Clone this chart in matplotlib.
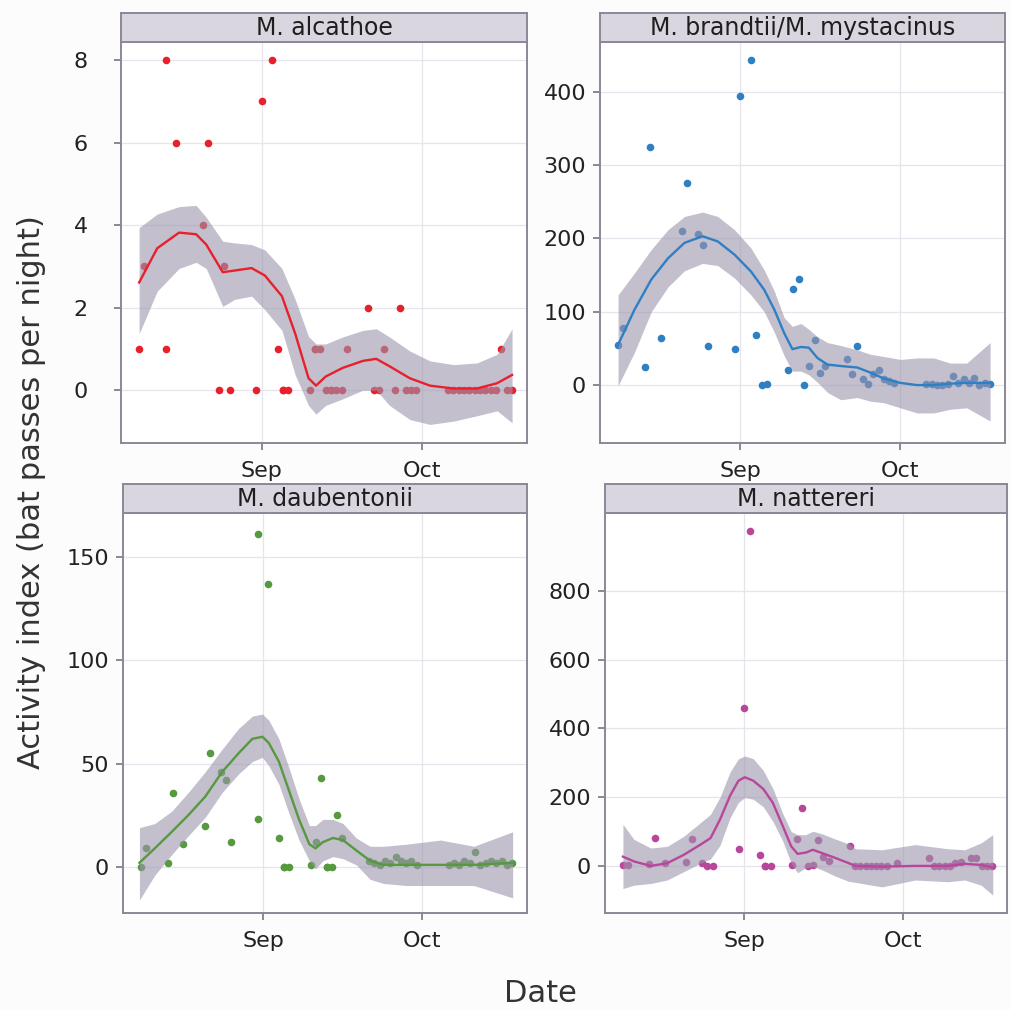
import numpy as np
import pandas as pd
import matplotlib
matplotlib.use("Agg")
import matplotlib.pyplot as plt
import matplotlib.dates as mdates

# days are counted from 1 Sep
base = pd.Timestamp("2016-09-01")

# M. alcathoe
alc_day = [-23, -22, -18, -18, -16, -11, -10, -8, -7, -6, -1, 0, 2, 3, 4, 4, 5,
           9, 10, 10, 11, 12, 13, 13, 14, 15, 16, 20, 21, 22, 23, 25, 26, 27, 28, 29,
           35, 36, 37, 38, 39, 40, 41, 42, 43, 44, 45, 46, 47]
alc_val = [1, 3, 1, 8, 6, 4, 6, 0, 3, 0, 0, 7, 8, 1, 0, 0, 0,
           0, 1, 1, 1, 0, 0, 0, 0, 0, 1, 2, 0, 0, 1, 0, 2, 0, 0, 0,
           0, 0, 0, 0, 0, 0, 0, 0, 0, 0, 1, 0, 0]
alc_fit_day = [-23, -19.6, -15.5, -12.3, -10.4, -7.3, -5.1, -1.9, 0.6, 3.8, 6.3, 8.8, 10.2,
               12, 15.2, 19, 21.5, 24, 27.8, 31.6, 36, 40.4, 44.2, 47]
alc_fit = [2.61, 3.44, 3.82, 3.78, 3.53, 2.86, 2.9, 2.96, 2.78, 2.28, 1.37, 0.29, 0.11,
           0.33, 0.54, 0.71, 0.76, 0.58, 0.29, 0.11, 0.04, 0.04, 0.17, 0.37]
alc_hi = [3.94, 4.27, 4.45, 4.48, 4.19, 3.61, 3.57, 3.53, 3.4, 2.95, 2.2, 1.3, 1.12,
          1.12, 1.29, 1.45, 1.49, 1.29, 0.95, 0.71, 0.62, 0.66, 0.87, 1.49]
alc_lo = [1.37, 2.4, 2.95, 3.1, 2.95, 2.03, 2.2, 2.28, 1.95, 1.45, 0.37, -0.37, -0.58,
          -0.37, -0.21, 0.0, 0.0, -0.37, -0.71, -0.83, -0.75, -0.62, -0.5, -0.79]

# M. brandtii/M. mystacinus
bra_day = [-23, -22, -18, -17, -15, -11, -10, -8, -7, -6, -1, 0, 2, 3, 4, 5,
           9, 10, 11, 12, 13, 14, 15, 16, 20, 21, 22, 23, 24, 25, 26, 27, 28, 29,
           35, 36, 37, 38, 39, 40, 41, 42, 43, 44, 45, 46, 47]
bra_val = [54, 78, 24, 325, 64, 210, 276, 206, 191, 53, 49, 394, 444, 69, 0, 2,
           20, 131, 145, 0, 26, 61, 17, 26, 36, 15, 53, 8, 2, 15, 21, 8, 5, 3,
           2, 1, 0, 0, 1, 13, 3, 8, 3, 9, 0, 3, 2]
bra_fit_day = [-23, -19.9, -16.75, -13.6, -10.5, -7.1, -4.25, -1.1, 2, 4.5, 6.4, 8.25, 9.8,
               11.4, 12.9, 14.5, 16.4, 18.9, 22, 24.5, 27, 30.1, 33.25, 36.4, 39.5, 42.6, 47]
bra_fit = [55, 103, 144, 173, 194, 203, 196, 178, 155, 130, 103, 71, 49,
           52, 51, 37, 28, 26, 24, 17, 9, 3, 0, 0, 2, 3, 3]
bra_hi = [123, 153, 185, 212, 230, 236, 230, 212, 187, 157, 128, 92, 80,
          84, 76, 66, 58, 54, 48, 42, 39, 35, 37, 37, 30, 30, 58]
bra_lo = [-1, 45, 100, 134, 156, 166, 163, 146, 123, 100, 72, 40, 19,
          19, 14, 4, -10, -20, -17, -22, -24, -31, -38, -38, -33, -31, -49]

# M. daubentonii
dau_day = [-23, -22, -18, -17, -15, -11, -10, -8, -7, -6, -1, -1, 1, 3, 4, 4, 5,
           9, 10, 11, 12, 12, 13, 14, 15, 20, 21, 22, 23, 24, 25, 26, 27, 28, 29,
           35, 36, 37, 38, 39, 40, 41, 42, 43, 44, 45, 46, 47]
dau_val = [0, 9, 2, 36, 11, 20, 55, 46, 42, 12, 23, 161, 137, 14, 0, 0, 0,
           1, 12, 43, 0, 0, 0, 25, 14, 3, 2, 1, 3, 2, 5, 3, 2, 3, 1,
           1, 2, 1, 3, 2, 7, 1, 2, 3, 2, 3, 1, 2]
dau_fit_day = [-23.3, -20.4, -17.2, -14.1, -10.9, -7.7, -4.6, -2, -0.1, 1.1, 3, 4.9, 6.8,
               8.75, 9.9, 11.3, 13.2, 15.1, 17.6, 20.2, 22.7, 27.1, 33.5, 39.8, 47.1]
dau_fit = [2, 9, 17, 25, 34, 46, 55, 62, 63, 60, 51, 37, 23,
           11, 9, 12, 14, 13, 8, 3, 1, 1, 1, 1, 2]
dau_hi = [19, 21, 27, 36, 46, 57, 67, 73, 74, 71, 62, 48, 33,
          20, 20, 23, 23, 21, 14, 10, 10, 11, 13, 10, 17]
dau_lo = [-16, -4, 6, 15, 24, 36, 45, 51, 53, 49, 40, 26, 13,
          3, -1, 3, 5, 4, 1, -6, -8, -9, -9, -9, -15]

# M. nattereri
nat_day = [-23, -22, -18, -17, -15, -11, -10, -8, -7, -6, -1, 0, 1, 3, 4, 4, 5,
           9, 10, 11, 12, 13, 14, 15, 16, 20, 21, 22, 23, 24, 25, 26, 27, 29,
           35, 36, 37, 38, 39, 40, 41, 43, 44, 45, 46, 47]
nat_val = [3, 3, 5, 81, 8, 10, 77, 8, 0, 0, 49, 459, 976, 32, 0, 0, 0,
           3, 77, 168, 0, 3, 74, 27, 13, 59, 0, 0, 0, 0, 0, 0, 0, 8,
           23, 0, 0, 0, 0, 8, 10, 23, 23, 0, 0, 0]
nat_fit_day = [-23, -20.9, -17.7, -14.6, -11.5, -8.3, -6.4, -4.6, -2.7, -1.1, 0.1, 1.7, 3.6,
               5.4, 7.3, 8.9, 10.1, 11.7, 13, 14.8, 17.3, 19.8, 21.1, 26.1, 32.4, 38.6,
               41.8, 44.9, 47.1]
nat_fit = [27, 13, 0, 8, 32, 62, 81, 135, 204, 248, 258, 248, 224,
           184, 116, 57, 35, 39, 47, 37, 23, 8, 0, -2, 0, 0, 6, 3, -5]
nat_hi = [121, 77, 52, 57, 86, 126, 150, 200, 273, 312, 320, 312, 278,
          226, 152, 100, 91, 91, 101, 93, 78, 64, 50, 47, 62, 50, 47, 67, 91]
nat_lo = [-66, -56, -51, -41, -17, 8, 20, 60, 140, 185, 199, 194, 172,
          130, 72, 8, -20, -5, -2, -12, -30, -45, -48, -61, -41, -46, -41, -56, -85]

panels = [
    ("M. alcathoe", alc_day, alc_val, alc_fit_day, alc_fit, alc_lo, alc_hi,
     "#E8202C", [0, 2, 4, 6, 8], (-1.28, 8.44), (121, 42, 527, 443), 19),
    ("M. brandtii/M. mystacinus", bra_day, bra_val, bra_fit_day, bra_fit, bra_lo, bra_hi,
     "#2F7FC4", [0, 100, 200, 300, 400], (-79, 468), (600, 42, 1005, 443), 5),
    ("M. daubentonii", dau_day, dau_val, dau_fit_day, dau_fit, dau_lo, dau_hi,
     "#56993E", [0, 50, 100, 150], (-22.3, 171.3), (123, 513, 527, 913), 5),
    ("M. nattereri", nat_day, nat_val, nat_fit_day, nat_fit, nat_lo, nat_hi,
     "#B8479B", [0, 200, 400, 600, 800], (-137, 1027), (605, 513, 1007, 913), 5),
]

W, H = 1012, 1010
fig = plt.figure(figsize=(W / 100, H / 100), dpi=100)
fig.patch.set_facecolor("#FCFCFC")

edge = "#8C8698"
band_col = "#9C95AD"
strip_h = 29

def to_dates(days):
    return [base + pd.Timedelta(days=float(d)) for d in days]

for title, d, v, fd, fv, lo, hi, col, yt, yl, box, ypad in panels:
    x0, y0, x1, y1 = box
    ax = fig.add_axes([x0 / W, 1 - y1 / H, (x1 - x0) / W, (y1 - y0) / H])
    ax.set_facecolor("white")
    ax.scatter(to_dates(d), v, s=30, color=col, zorder=3, linewidths=0)
    fx = to_dates(fd)
    ax.fill_between(fx, lo, hi, color=band_col, alpha=0.6, linewidth=0, zorder=4)
    ax.plot(fx, fv, color=col, lw=1.7, zorder=5, solid_joinstyle="round")
    ax.set_xlim(base + pd.Timedelta(days=-26.4), base + pd.Timedelta(days=49.8))
    ax.set_ylim(*yl)
    ax.set_yticks(yt)
    ax.xaxis.set_major_locator(mdates.MonthLocator())
    ax.xaxis.set_major_formatter(mdates.DateFormatter("%b"))
    ax.grid(True, color="#E6E4EC", lw=0.9, zorder=0)
    ax.set_axisbelow(True)
    for s in ax.spines.values():
        s.set_color(edge)
        s.set_linewidth(1.4)
    ax.tick_params(axis="both", colors=edge, labelcolor="#222222", labelsize=16,
                   length=5, width=1.4)
    ax.tick_params(axis="x", pad=8)
    ax.tick_params(axis="y", pad=ypad)
    # facet strip
    sax = fig.add_axes([x0 / W, 1 - y0 / H, (x1 - x0) / W, strip_h / H])
    sax.set_facecolor("#D9D6E0")
    sax.set_xticks([])
    sax.set_yticks([])
    for s in sax.spines.values():
        s.set_color(edge)
        s.set_linewidth(1.4)
    sax.text(0.5, 0.47, title, ha="center", va="center", fontsize=17,
             color="#1E1E1E", transform=sax.transAxes)

fig.text(32 / W, 1 - 492 / H, "Activity index (bat passes per night)", rotation=90,
         ha="center", va="center", fontsize=22, color="#333333")
fig.text(540 / W, 1 - 993 / H, "Date", ha="center", va="center", fontsize=22,
         color="#333333")

fig.savefig("out.png", dpi=100, facecolor=fig.get_facecolor())
